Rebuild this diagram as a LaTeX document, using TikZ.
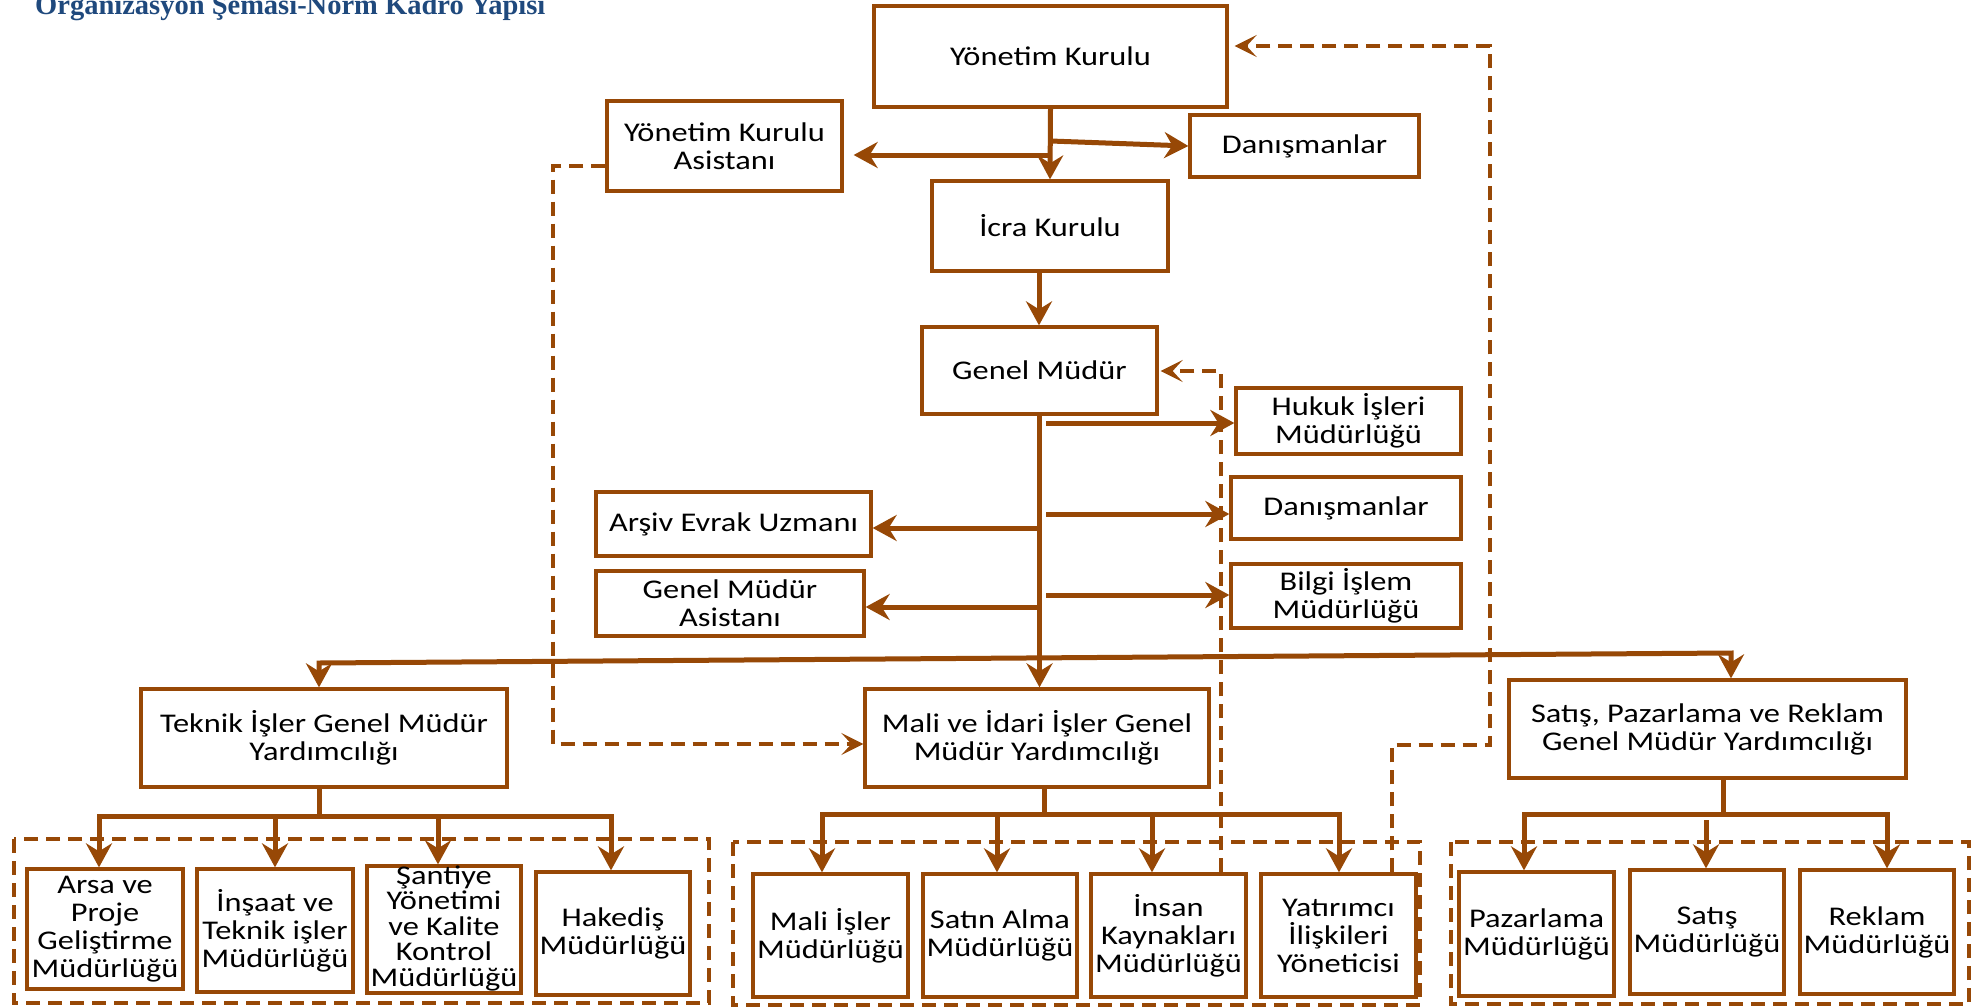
\documentclass[tikz,border=0pt]{standalone}
\usepackage{fontspec}
\setmainfont{Carlito}[FakeStretch=1.2]
\newfontfamily\titlefont{Liberation Serif}
\usetikzlibrary{arrows.meta,shadows}
\definecolor{brn}{HTML}{974806}
\definecolor{ttl}{HTML}{1F497D}
\tikzset{
 box/.style={draw=brn, line width=3.3pt, fill=white, inner sep=0pt, align=center,
   font=\fontsize{27}{28}\selectfont,
   drop shadow={shadow xshift=2pt, shadow yshift=-2pt, opacity=0.3, fill=black!50}},
 conn/.style={draw=brn, line width=5pt, >={Stealth[length=24pt,width=26pt,inset=8pt]}},
 arr/.style={conn, ->},
 dconn/.style={draw=brn, line width=4pt, dash pattern=on 14pt off 8pt},
 darr/.style={dconn, -{Stealth[length=22pt,width=22pt,inset=10pt]}},
 grp/.style={draw=brn, line width=3.8pt, dash pattern=on 14pt off 8pt},
}
\begin{document}
\begin{tikzpicture}[x=1pt,y=-1pt]
\fill[white] (0,0) rectangle (1973,1007);
\useasboundingbox (0,0) rectangle (1973,1007);

% title
\node[anchor=base west, text=ttl, inner sep=0pt,
  font=\titlefont\bfseries\fontsize{28.5}{30}\selectfont] (title) at (35,14)
  {Organizasyon Şeması-Norm Kadro Yapısı};

% group frames
\draw[grp] (14,839) rectangle (709,1003);
\draw[grp] (733,842) rectangle (1420,1005);
\draw[grp] (1451,842) rectangle (1969,1004);

% boxes
\node[box, minimum width=353pt, minimum height=101pt] (yk) at (1050.5,56.5) {Yönetim Kurulu};
\node[box, minimum width=235pt, minimum height=90pt] (yka) at (724.5,146) {Yönetim Kurulu\\Asistanı};
\node[box, minimum width=229pt, minimum height=62pt] (dan1) at (1304.5,146) {Danışmanlar};
\node[box, minimum width=236pt, minimum height=90pt] (icra) at (1050,226) {İcra Kurulu};
\node[box, minimum width=235pt, minimum height=87pt] (gm) at (1039.5,370.5) {Genel Müdür};
\node[box, minimum width=225pt, minimum height=66pt] (huk) at (1348.5,421) {Hukuk İşleri\\Müdürlüğü};
\node[box, minimum width=230pt, minimum height=62pt] (dan2) at (1346,508) {Danışmanlar};
\node[box, minimum width=230pt, minimum height=64pt] (bilgi) at (1346,596) {Bilgi İşlem\\Müdürlüğü};
\node[box, minimum width=275pt, minimum height=64pt] (arsiv) at (733.5,524) {Arşiv Evrak Uzmanı};
\node[box, minimum width=268pt, minimum height=65pt] (gma) at (730,603.5) {Genel Müdür\\Asistanı};

\node[box, minimum width=366pt, minimum height=98pt] (tek) at (324,738) {Teknik İşler Genel Müdür\\Yardımcılığı};
\node[box, minimum width=344pt, minimum height=98pt] (mali) at (1037,738) {Mali ve İdari İşler Genel\\Müdür Yardımcılığı};
\node[box, minimum width=397pt, minimum height=98pt] (spr) at (1707.5,729) {Satış, Pazarlama ve Reklam\\Genel Müdür Yardımcılığı};

\node[box, minimum width=156pt, minimum height=120pt] (arsa) at (105,929) {Arsa ve\\Proje\\Geliştirme\\Müdürlüğü};
\node[box, minimum width=156pt, minimum height=123pt] (insaat) at (275,930.5) {İnşaat ve\\Teknik işler\\Müdürlüğü};
\node[box, minimum width=154pt, minimum height=127pt] (santiye) at (444,929.5) {};
\node[align=center, inner sep=0pt, font=\fontsize{27}{25.5}\selectfont] (santiyet) at ([yshift=1.5pt]santiye.center) {Şantiye\\Yönetimi\\ve Kalite\\Kontrol\\Müdürlüğü};
\node[box, minimum width=154pt, minimum height=123pt] (hakedis) at (613,933.5) {Hakediş\\Müdürlüğü};

\node[box, minimum width=155pt, minimum height=123pt] (malii) at (830.5,935.5) {Mali İşler\\Müdürlüğü};
\node[box, minimum width=154pt, minimum height=123pt] (satin) at (1000,935.5) {Satın Alma\\Müdürlüğü};
\node[box, minimum width=155pt, minimum height=123pt] (ik) at (1168.5,935.5) {İnsan\\Kaynakları\\Müdürlüğü};
\node[box, minimum width=155pt, minimum height=123pt] (yat) at (1338.5,935.5) {Yatırımcı\\İlişkileri\\Yöneticisi};

\node[box, minimum width=155pt, minimum height=124pt] (paz) at (1536.5,934) {Pazarlama\\Müdürlüğü};
\node[box, minimum width=154pt, minimum height=124pt] (sat) at (1707,932) {Satış\\Müdürlüğü};
\node[box, minimum width=154pt, minimum height=124pt] (rek) at (1877,932) {Reklam\\Müdürlüğü};

% dashed connectors
\coordinate (d1a) at (1392,745);
\coordinate (d1b) at (1490,745);
\coordinate (d1c) at (1490,46);
\draw[darr, shorten >=6pt] (yat.north -| d1a) -- (d1a) -- (d1b) -- (d1c) -- (d1c -| yk.east);
\coordinate (d2a) at (1221,371);
\draw[darr, shorten >=2pt] (ik.north -| d2a) -- (d2a) -- (d2a -| gm.east);
\coordinate (d3a) at (553,166);
\coordinate (d3b) at (553,744);
\draw[darr] (d3a -| yka.west) -- (d3a) -- (d3b) -- (d3b -| mali.west);

% top connectors
\draw[arr] (yk.south) -- (icra.north);
\coordinate (j1) at (1050.5,155);
\coordinate (j2) at (1050.5,141);
\draw[arr, shorten >=10pt] (j1) -- (j1 -| yka.east);
\draw[arr] (j2) -- (dan1.west);
\coordinate (j3) at (1039,271);
\draw[arr] (j3) -- (j3 |- gm.north);

% genel mudur trunk
\draw[arr] (gm.south) -- (gm.south |- mali.north);
\coordinate (r1) at (1046,423);
\coordinate (r2) at (1046,514);
\coordinate (r3) at (1046,595);
\draw[arr] (r1) -- (r1 -| huk.west);
\draw[arr] (r2) -- (r2 -| dan2.west);
\draw[arr] (r3) -- (r3 -| bilgi.west);
\coordinate (l1) at (1037,528);
\coordinate (l2) at (1040,607);
\draw[arr] (l1) -- (l1 -| arsiv.east);
\draw[arr] (l2) -- (l2 -| gma.east);

% GMY distribution
\coordinate (hl) at (319,663);
\coordinate (hr) at (1731,653);
\draw[conn, <->] (hl |- tek.north) -- (hl) -- (hr) -- (hr |- spr.north);

% teknik subtree
\coordinate (tj) at (319,816);
\coordinate (t1) at (99,816);
\coordinate (t2) at (275,816);
\coordinate (t3) at (438,816);
\coordinate (t4) at (611,816);
\draw[conn] (tek.south -| tj) -- (tj);
\draw[conn, <->] (t1 |- arsa.north) -- (t1) -- (t4) -- (t4 |- hakedis.north);
\draw[arr] (t2) -- (t2 |- insaat.north);
\draw[arr] (t3) -- (t3 |- santiye.north);

% mali subtree
\coordinate (mj) at (1044,814);
\coordinate (m1) at (822,814);
\coordinate (m2) at (997,814);
\coordinate (m3) at (1152,814);
\coordinate (m4) at (1339,814);
\draw[conn] (mali.south -| mj) -- (mj);
\draw[conn, <->] (m1 |- malii.north) -- (m1) -- (m4) -- (m4 |- yat.north);
\draw[arr] (m2) -- (m2 |- satin.north);
\draw[arr] (m3) -- (m3 |- ik.north);

% satis subtree
\coordinate (sj) at (1723,814);
\coordinate (s1) at (1524,814);
\coordinate (s2) at (1706,820);
\coordinate (s3) at (1887,814);
\draw[conn] (spr.south -| sj) -- (sj);
\draw[conn, <->] (s1 |- paz.north) -- (s1) -- (s3) -- (s3 |- rek.north);
\draw[arr] (s2) -- (s2 |- sat.north);
\end{tikzpicture}
\end{document}
